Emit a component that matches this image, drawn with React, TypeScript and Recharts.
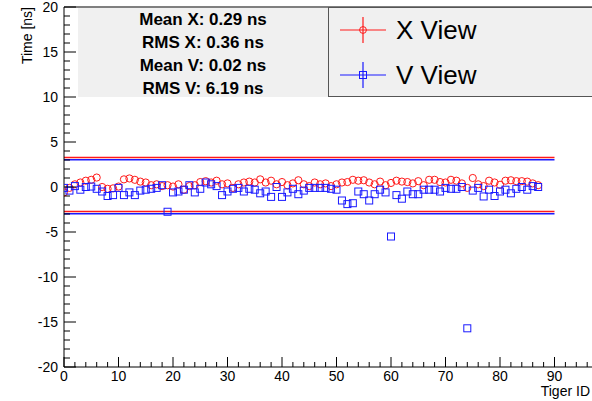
import React from "react";
import {
  ScatterChart,
  Scatter,
  XAxis,
  YAxis,
  ReferenceLine,
  Legend,
} from "recharts";

// Tiger channel IDs and measured time offsets (ns) per view
const tigerIds: number[] = Array.from({ length: 88 }, (_, i) => i);

const xViewTimes: number[] = [
  -0.6, -0.1, 0.3, 0.5, 0.7, 0.8, 1.05, 0.0, -0.2, -0.15,
  0.05, 0.85, 0.95, 0.8, 0.6, 0.5, 0.2, 0.3, 0.1, 0.2,
  0.05, 0.3, -0.3, 0.1, 0.2, 0.55, 0.65, 0.5, 0.7, 0.3,
  0.4, -0.1, 0.3, 0.5, 0.6, 0.5, 0.85, 0.5, 0.7, 0.3,
  0.55, 0.2, 0.4, 0.75, 0.3, 0.1, 0.5, 0.3, 0.4, 0.1,
  0.3, 0.5, 0.55, 0.8, 0.7, 0.75, 0.5, 0.3, 0.6, 0.2,
  0.45, 0.7, 0.6, 0.55, 0.4, 0.65, 0.2, 0.8, 0.8, 0.55,
  0.5, 0.8, 0.7, 0.4, -0.1, 1.0, 0.3, 0.1, 0.7, 0.5,
  0.25, 0.7, 0.75, 0.65, 0.65, 0.6, 0.4, 0.2,
];

const vViewTimes: number[] = [
  -0.1, -0.4, 0.1, -0.3, 0.0, 0.05, -0.2, -0.5, -1.0, -0.9,
  -0.1, -0.9, -0.6, -0.9, -0.4, -0.3, -0.2, -0.1, 0.2, -2.75,
  -0.6, -0.5, -0.3, 0.2, -0.6, -0.2, 0.5, 0.3, 0.1, -0.9,
  -0.5, -0.2, -0.1, -0.5, -0.2, -0.3, -0.7, -0.5, -1.1, 0.0,
  -1.1, -0.6, -0.2, -0.8, -0.4, -0.1, -0.1, -0.1, -0.1, -0.2,
  -0.3, -1.5, -1.9, -1.8, -0.5, -0.8, -1.5, -0.8, -0.3, -0.6,
  -5.5, -0.9, -1.3, -0.5, -0.8, -0.8, -0.3, -0.3, -0.3, -0.5,
  -0.1, -0.2, -0.2, 0.0, -15.7, -0.4, -0.1, -1.05, -0.3, -1.0,
  -0.5, -0.3, -0.7, -0.2, 0.0, -0.3, 0.1, 0.0,
];

// Summary statistics shown in the stats box
const statLines: string[] = [
  "Mean X: 0.29 ns",
  "RMS X: 0.36 ns",
  "Mean V: 0.02 ns",
  "RMS V: 6.19 ns",
];
const meanX = 0.29;
const meanV = 0.02;
const bandHalfWidth = 3;
const bandEndId = 90;

// Axis ticks: minor + major; labels only up to the last one in view
const xTicks: number[] = Array.from({ length: 51 }, (_, i) => i * 2);
const xLabelMax = 90;
const yTicks: number[] = Array.from({ length: 41 }, (_, i) => i - 20);

const RED = "#ff1a1a";
const BLUE = "#1a1aff";
const FONT = "'Liberation Sans', Arial, Helvetica, sans-serif";

const xData = tigerIds.map((id, i) => ({ id, t: xViewTimes[i] }));
const vData = tigerIds.map((id, i) => ({ id, t: vViewTimes[i] }));

const CircleMarker = (props: any) => {
  const { cx, cy } = props;
  if (cx == null || cy == null) return null;
  return <circle cx={cx} cy={cy} r={3.6} fill="none" stroke={RED} strokeWidth={1} />;
};

const SquareMarker = (props: any) => {
  const { cx, cy } = props;
  if (cx == null || cy == null) return null;
  return (
    <rect x={cx - 3.5} y={cy - 3.5} width={7} height={7} fill="none" stroke={BLUE} strokeWidth={1} />
  );
};

const XTick = (props: any) => {
  const { x, y, payload } = props;
  const v = payload.value as number;
  const major = v % 10 === 0;
  return (
    <g>
      <line x1={x} y1={y} x2={x} y2={y - (major ? 10 : 5)} stroke="#000" strokeWidth={1} />
      {major && v <= xLabelMax && (
        <text x={x} y={y + 14} textAnchor="middle" fontSize={14} fontFamily={FONT} fill="#000">
          {v}
        </text>
      )}
    </g>
  );
};

const YTick = (props: any) => {
  const { x, y, payload } = props;
  const v = payload.value as number;
  const major = v % 5 === 0;
  return (
    <g>
      <line x1={x} y1={y} x2={x + (major ? 12 : 6)} y2={y} stroke="#000" strokeWidth={1} />
      {major && (
        <text x={x - 6} y={y + 5} textAnchor="end" fontSize={14} fontFamily={FONT} fill="#000">
          {v}
        </text>
      )}
    </g>
  );
};

const LegendContent = () => {
  const rows = [
    { name: "X View", color: RED, shape: "circle" },
    { name: "V View", color: BLUE, shape: "square" },
  ];
  return (
    <div
      style={{
        width: 280,
        height: 90,
        background: "#f0f0f0",
        border: "1px solid #555",
        boxSizing: "border-box",
        position: "relative",
      }}
    >
      {rows.map((r, i) => (
        <div
          key={r.name}
          style={{
            position: "absolute",
            left: 10,
            top: 8 + i * 45,
            height: 28,
            display: "flex",
            alignItems: "center",
          }}
        >
          <svg width={48} height={28} style={{ display: "block" }}>
            <line x1={1} y1={14} x2={47} y2={14} stroke={r.color} strokeWidth={1.2} />
            <line x1={24} y1={1} x2={24} y2={27} stroke={r.color} strokeWidth={1.2} />
            {r.shape === "circle" ? (
              <circle cx={24} cy={14} r={3.4} fill="none" stroke={r.color} />
            ) : (
              <rect x={20.5} y={10.5} width={7} height={7} fill="none" stroke={r.color} />
            )}
          </svg>
          <span
            style={{
              marginLeft: 9,
              fontFamily: FONT,
              fontSize: 26,
              color: "#000",
              lineHeight: "28px",
            }}
          >
            {r.name}
          </span>
        </div>
      ))}
    </div>
  );
};

export default function App() {
  return (
    <div
      style={{
        position: "absolute",
        left: 0,
        top: 0,
        width: 592,
        height: 401,
        overflow: "hidden",
        background: "#fff",
      }}
    >
      <ScatterChart
        width={620}
        height={401}
        margin={{ top: 7, right: 11, bottom: 0, left: 0 }}
      >
        <XAxis
          type="number"
          dataKey="id"
          domain={[0, 100]}
          ticks={xTicks}
          interval={0}
          height={34}
          tickSize={0}
          tickMargin={0}
          tick={<XTick />}
          axisLine={{ stroke: "#000", strokeWidth: 1 }}
          tickLine={false}
          allowDataOverflow
          label={(p: any) => {
            const vb = p.viewBox || {};
            return (
              <text
                x={vb.x + vb.width - 19}
                y={vb.y + 29}
                textAnchor="end"
                fontSize={14}
                fontFamily={FONT}
                fill="#000"
              >
                Tiger ID
              </text>
            );
          }}
        />
        <YAxis
          type="number"
          dataKey="t"
          domain={[-20, 20]}
          ticks={yTicks}
          interval={0}
          width={64}
          tickSize={0}
          tickMargin={0}
          tick={<YTick />}
          axisLine={{ stroke: "#000", strokeWidth: 1 }}
          tickLine={false}
          allowDataOverflow
          label={(p: any) => {
            const vb = p.viewBox || {};
            const lx = vb.x + vb.width - 32;
            const ly = vb.y;
            return (
              <text
                x={lx}
                y={ly}
                transform={`rotate(-90, ${lx}, ${ly})`}
                textAnchor="end"
                fontSize={14}
                fontFamily={FONT}
                fill="#000"
              >
                Time [ns]
              </text>
            );
          }}
        />
        <ReferenceLine y={20} stroke="#000" strokeWidth={1} ifOverflow="visible" />
        <ReferenceLine
          segment={[
            { x: 0, y: meanX + bandHalfWidth },
            { x: bandEndId, y: meanX + bandHalfWidth },
          ]}
          stroke={RED}
          strokeWidth={1.5}
        />
        <ReferenceLine
          segment={[
            { x: 0, y: meanX - bandHalfWidth },
            { x: bandEndId, y: meanX - bandHalfWidth },
          ]}
          stroke={RED}
          strokeWidth={1.5}
        />
        <ReferenceLine
          segment={[
            { x: 0, y: meanV + bandHalfWidth },
            { x: bandEndId, y: meanV + bandHalfWidth },
          ]}
          stroke={BLUE}
          strokeWidth={1.5}
        />
        <ReferenceLine
          segment={[
            { x: 0, y: meanV - bandHalfWidth },
            { x: bandEndId, y: meanV - bandHalfWidth },
          ]}
          stroke={BLUE}
          strokeWidth={1.5}
        />
        <Scatter
          name="X View"
          data={xData}
          shape={<CircleMarker />}
          isAnimationActive={false}
        />
        <Scatter
          name="V View"
          data={vData}
          shape={<SquareMarker />}
          isAnimationActive={false}
        />
        <Legend
          layout="vertical"
          align="center"
          verticalAlign="middle"
          content={<LegendContent />}
          wrapperStyle={{ left: 328, top: 7, width: 280, height: 90 }}
        />
      </ScatterChart>
      <div
        style={{
          position: "absolute",
          left: 78,
          top: 8,
          width: 250,
          height: 89,
          background: "#f0f0f0",
          fontFamily: FONT,
          fontWeight: "bold",
          fontSize: 17,
          textAlign: "center",
          color: "#000",
          paddingTop: 0,
          boxSizing: "border-box",
        }}
      >
        {statLines.map((s) => (
          <div key={s} style={{ height: 23, lineHeight: "23px" }}>
            {s}
          </div>
        ))}
      </div>
    </div>
  );
}
